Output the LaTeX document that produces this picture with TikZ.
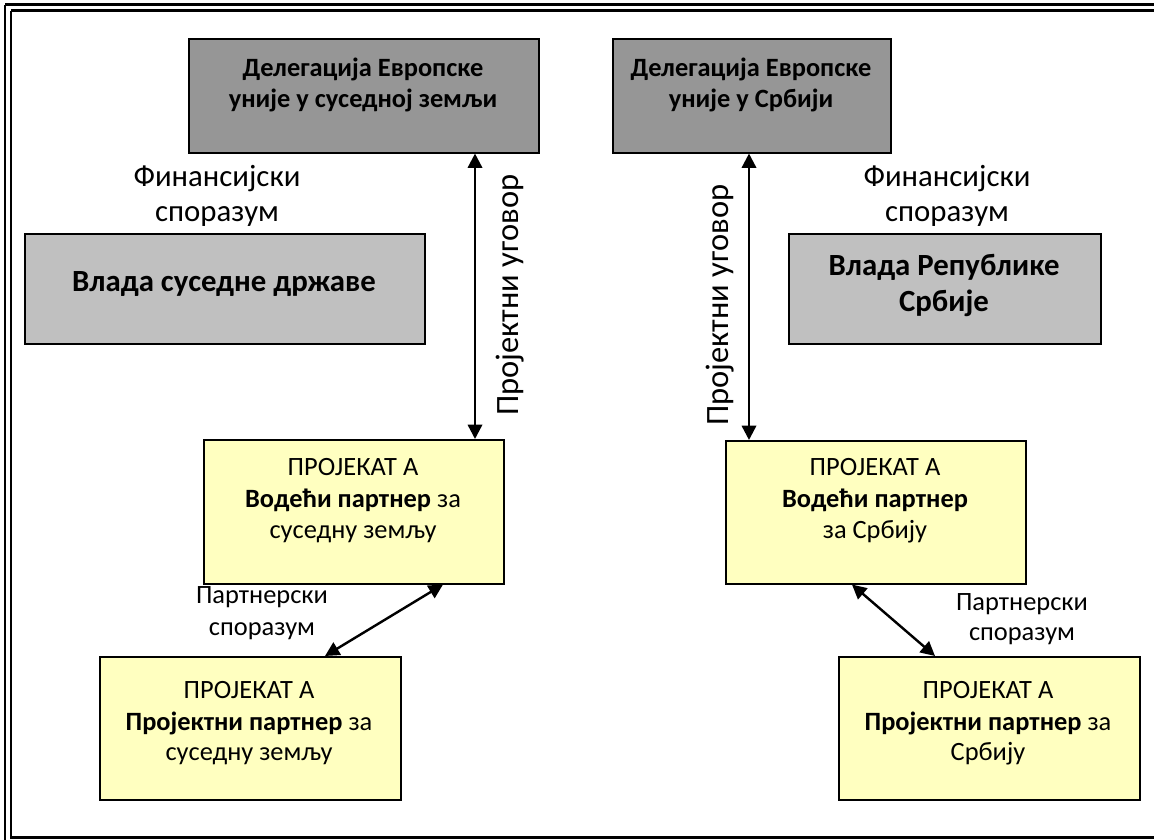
\documentclass[tikz,border=0pt]{standalone}
\usepackage{fontspec}
\setmainfont{Carlito}
\usetikzlibrary{arrows.meta}
\newdimen\pxu \pxu=0.4545pt
\definecolor{dgray}{HTML}{969696}
\definecolor{lgray}{HTML}{C0C0C0}
\definecolor{lyellow}{HTML}{FFFFC0}
\tikzset{
  x=0.4545pt, y=-0.4545pt,
  box/.style={draw=black, line width=0.7pt, inner sep=0pt, anchor=north west},
  darkbox/.style={box, fill=dgray},
  lightbox/.style={box, fill=lgray},
  yellowbox/.style={box, fill=lyellow},
  txt/.style={anchor=base, inner sep=0pt, font=\fontsize{12}{14.5}\selectfont},
  btxt/.style={txt, font=\fontsize{12}{14.5}\selectfont\bfseries},
  bigtxt/.style={anchor=base, inner sep=0pt, font=\fontsize{14}{16}\selectfont},
  bigbtxt/.style={bigtxt, font=\fontsize{14}{16}\selectfont\bfseries},
  rottxt/.style={inner sep=0pt, rotate=90, font=\fontsize{14.8}{17}\selectfont},
  arr/.style={line width=1.1pt, {Triangle[length=6.5pt,width=6.5pt]}-{Triangle[length=6.5pt,width=6.5pt]}},
  frame/.style={line width=1.36pt, draw=black}
}
\begin{document}
\begin{tikzpicture}
\useasboundingbox (0,0) rectangle (1154,840);
\fill[white] (0,0) rectangle (1154,840);
% page frame
\draw[frame] (5,5) -- (1154,5);
\draw[frame] (5,5) -- (5,840);
\draw[frame] (11,11) -- (1154,11);
\draw[frame] (11,11) -- (11,837) -- (1154,837);

% boxes
\node[darkbox, minimum width=350\pxu, minimum height=114\pxu] (b1) at (188,38) {};
\node[darkbox, minimum width=278\pxu, minimum height=114\pxu] (b2) at (612,38) {};
\node[lightbox, minimum width=400\pxu, minimum height=110\pxu] (g1) at (24,233) {};
\node[lightbox, minimum width=312\pxu, minimum height=110\pxu] (g2) at (788,233) {};
\node[yellowbox, minimum width=300\pxu, minimum height=144\pxu] (y1) at (203,439) {};
\node[yellowbox, minimum width=300\pxu, minimum height=143\pxu] (y2) at (725,440) {};
\node[yellowbox, minimum width=301\pxu, minimum height=143\pxu] (y3) at (99,656) {};
\node[yellowbox, minimum width=301\pxu, minimum height=143\pxu] (y4) at (838,656) {};

% box texts
\node[btxt] at (363,77) {Делегација Европске};
\node[btxt] at (363,108) {уније у суседној земљи};
\node[btxt] at (751,77) {Делегација Европске};
\node[btxt] at (751,108) {уније у Србији};
\node[bigbtxt] at (224,292) {Влада суседне државе};
\node[bigbtxt] at (944,276) {Влада Републике};
\node[bigbtxt] at (944,311) {Србије};

\node[txt] at (353,475) {ПРОЈЕКАТ А};
\node[txt] at (353,507) {\textbf{Водећи партнер} за};
\node[txt] at (353,538) {суседну земљу};

\node[txt] at (875,475) {ПРОЈЕКАТ А};
\node[txt] at (875,507) {\textbf{Водећи партнер}};
\node[txt] at (875,538) {за Србију};

\node[txt] at (249,698) {ПРОЈЕКАТ А};
\node[txt] at (249,730) {\textbf{Пројектни партнер} за};
\node[txt] at (249,760) {суседну земљу};

\node[txt] at (988,698) {ПРОЈЕКАТ А};
\node[txt] at (988,730) {\textbf{Пројектни партнер} за};
\node[txt] at (988,760) {Србију};

% labels
\node[bigtxt] at (217,187) {Финансијски};
\node[bigtxt] at (217,222) {споразум};
\node[bigtxt] at (947,187) {Финансијски};
\node[bigtxt] at (947,222) {споразум};
\node[txt] at (262,603) {Партнерски};
\node[txt] at (262,635) {споразум};
\node[txt] at (1022,610) {Партнерски};
\node[txt] at (1022,640) {споразум};
\node[rottxt] (l1) at (510,295) {Пројектни уговор};
\node[rottxt] (l2) at (720,305) {Пројектни уговор};

% connectors
\coordinate (ax1) at (475,0);
\coordinate (ax2) at (749,0);
\coordinate (d1a) at (443,0);
\coordinate (d1b) at (325,0);
\coordinate (d2a) at (852,0);
\coordinate (d2b) at (935,0);
\draw[arr] (b1.south -| ax1) -- (y1.north -| ax1);
\draw[arr] (b2.south -| ax2) -- (y2.north -| ax2);
\draw[arr] (y1.south -| d1a) -- (y3.north -| d1b);
\draw[arr] (y2.south -| d2a) -- (y4.north -| d2b);
\end{tikzpicture}
\end{document}
